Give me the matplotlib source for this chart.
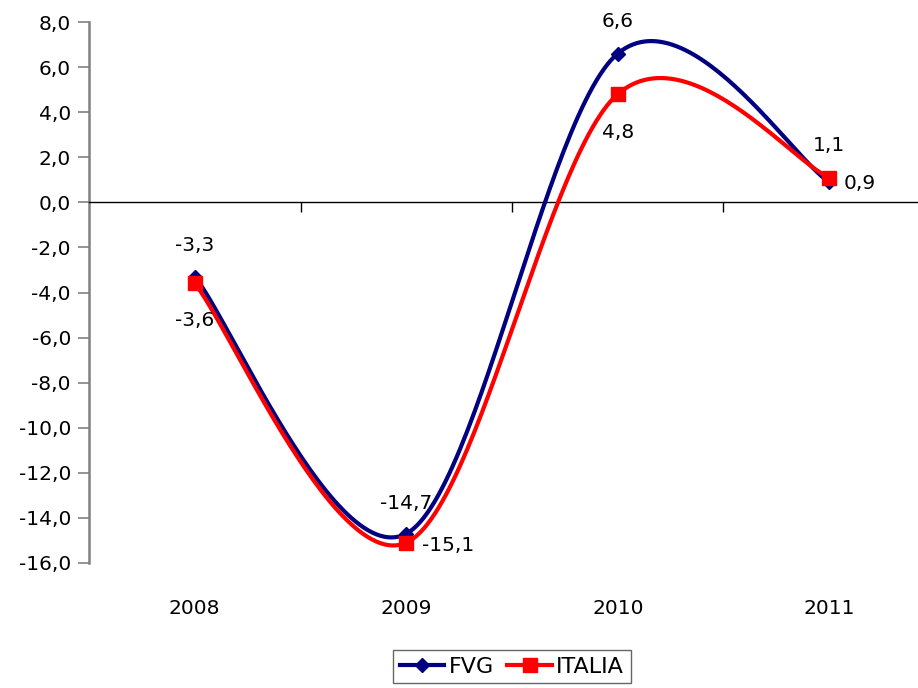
import numpy as np
import matplotlib
matplotlib.use("Agg")
import matplotlib.pyplot as plt
from matplotlib.transforms import blended_transform_factory

years = ["2008", "2009", "2010", "2011"]
fvg = [-3.3, -14.7, 6.6, 0.9]
italia = [-3.6, -15.1, 4.8, 1.1]
yticks = [-16, -14, -12, -10, -8, -6, -4, -2, 0, 2, 4, 6, 8]


def smooth(xs, ys, n=60):
    """Bezier smoothing through the data points (Excel-like smoothed line)."""
    xs = np.asarray(xs, float)
    ys = np.asarray(ys, float)
    px = np.concatenate([[xs[0]], xs, [xs[-1]]])
    py = np.concatenate([[ys[0]], ys, [ys[-1]]])
    ox, oy = [], []
    t = np.linspace(0, 1, n)
    for i in range(len(xs) - 1):
        j = i + 1
        p0x, p0y = px[j], py[j]
        p3x, p3y = px[j + 1], py[j + 1]
        p1x = p0x + (px[j + 1] - px[j - 1]) / 6
        p1y = p0y + (py[j + 1] - py[j - 1]) / 6
        p2x = p3x - (px[j + 2] - px[j]) / 6
        p2y = p3y - (py[j + 2] - py[j]) / 6
        bx = (1 - t) ** 3 * p0x + 3 * (1 - t) ** 2 * t * p1x + 3 * (1 - t) * t ** 2 * p2x + t ** 3 * p3x
        by = (1 - t) ** 3 * p0y + 3 * (1 - t) ** 2 * t * p1y + 3 * (1 - t) * t ** 2 * p2y + t ** 3 * p3y
        ox.extend(bx)
        oy.extend(by)
    return np.array(ox), np.array(oy)


def fmt(v):
    return f"{v:.1f}".replace(".", ",")


FS = 14.5
plt.rcParams['font.family'] = ['DejaVu Sans']
fig = plt.figure(figsize=(9.18, 6.88), dpi=100)
ax = fig.add_axes([89 / 918, 1 - 563 / 688, (935 - 89) / 918, (563 - 22) / 688])

x = np.arange(len(years))
navy = "#000080"
red = "#FF0000"

sx, sy = smooth(x, fvg)
ax.plot(sx, sy, color=navy, lw=3.0, zorder=3, solid_capstyle='round')
ax.plot(x, fvg, ls='none', marker='D', ms=7, color=navy, zorder=4)
sx, sy = smooth(x, italia)
ax.plot(sx, sy, color=red, lw=3.0, zorder=5, solid_capstyle='round')
ax.plot(x, italia, ls='none', marker='s', ms=9.5, color=red, zorder=6)

# legend proxies
ax.plot([], [], color=navy, lw=3.0, marker='D', ms=7, label="FVG")
ax.plot([], [], color=red, lw=3.0, marker='s', ms=9.5, label="ITALIA")

ax.set_xlim(-0.5, 3.5)
ax.set_ylim(-16, 8)
ax.set_yticks(yticks)
ax.set_yticklabels([fmt(v) for v in yticks], fontsize=FS)

for s in ['top', 'right']:
    ax.spines[s].set_visible(False)
ax.spines['left'].set_color('#808080')
ax.spines['left'].set_linewidth(1.8)
ax.spines['bottom'].set_position(('data', 0))
ax.spines['bottom'].set_color('black')
ax.spines['bottom'].set_linewidth(1.0)
ax.tick_params(axis='y', direction='out', length=8, width=1.2, color='#808080', pad=5)
ax.set_xticks([0.5, 1.5, 2.5])
ax.set_xticklabels([])
ax.tick_params(axis='x', direction='out', length=7, width=1.0, color='black')

trans = blended_transform_factory(ax.transData, ax.transAxes)
for xi, lab in zip(x, years):
    ax.text(xi, -45 / 541, lab, transform=trans, ha='center', va='center', fontsize=FS)

# data labels (offsets in pixels)
fvg_pos = [(0, 31, 'center'), (0, 30, 'center'), (0, 32, 'center'), (14, -1, 'left')]
ita_pos = [(0, -37, 'center'), (16, -3, 'left'), (0, -38, 'center'), (0, 32, 'center')]
for xi, v, (dx, dy, ha) in zip(x, fvg, fvg_pos):
    ax.annotate(fmt(v), (xi, v), xytext=(dx, dy), textcoords='offset pixels',
                ha=ha, va='center', fontsize=FS, zorder=7)
for xi, v, (dx, dy, ha) in zip(x, italia, ita_pos):
    ax.annotate(fmt(v), (xi, v), xytext=(dx, dy), textcoords='offset pixels',
                ha=ha, va='center', fontsize=FS, zorder=7)

leg = fig.legend(loc='upper center', bbox_to_anchor=(512 / 918, 1 - 650 / 688),
                 ncol=2, frameon=True, fancybox=False, fontsize=16,
                 handlelength=2.0, handletextpad=0.2, columnspacing=0.6,
                 borderpad=0.3, borderaxespad=0)
leg.get_frame().set_edgecolor('#404040')
leg.get_frame().set_linewidth(1.0)

fig.savefig("out.png", dpi=100)
